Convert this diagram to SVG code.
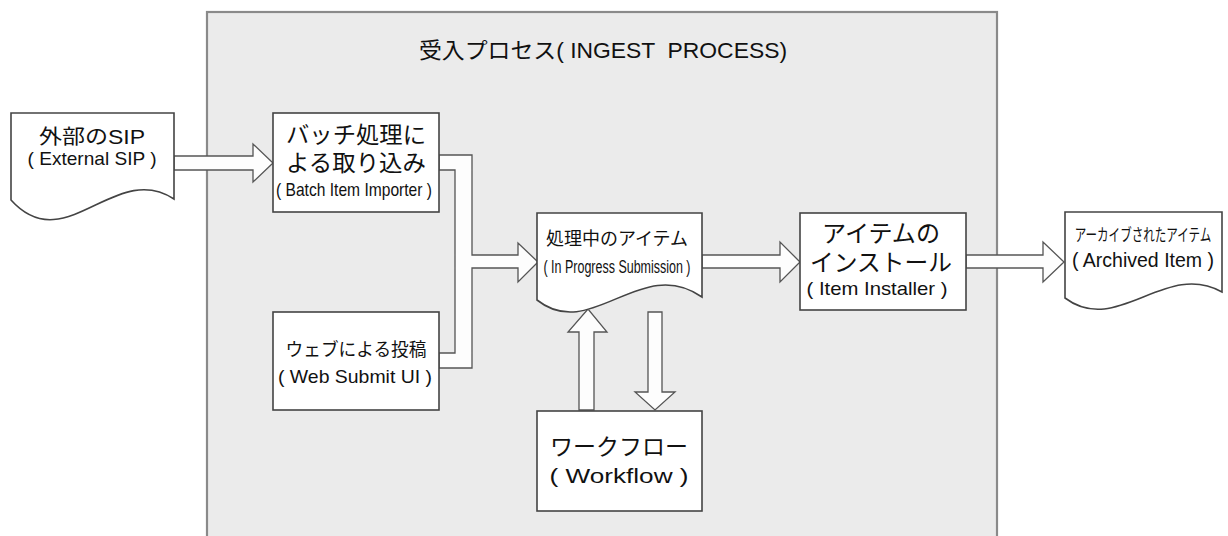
<svg xmlns="http://www.w3.org/2000/svg" width="1228" height="536" viewBox="0 0 1228 536">
<defs>
<style>
.t{font-family:"Liberation Sans","Noto Sans CJK JP",sans-serif;fill:#111;text-anchor:middle}
.box{fill:#fff;stroke:#444;stroke-width:1.6}
.arr{fill:#fdfdfd;stroke:#555;stroke-width:1.3;stroke-linejoin:miter}
.pre{white-space:pre}
</style>
</defs>
<rect width="1228" height="536" fill="#fff"/>
<g id="ingest-process">
<rect x="207" y="12" width="790" height="540" fill="#ebebeb" stroke="#8a8a8a" stroke-width="2.2"/>
<text class="t pre" x="603" y="58" font-size="22" textLength="368" lengthAdjust="spacingAndGlyphs">受入プロセス( INGEST  PROCESS)</text>
</g>
<g id="connectors">
<polygon class="arr" points="174,156 253,156 253,144 273,163 253,182 253,170 174,170"/>
<path class="arr" d="M439,155 H472 V255 H518 V243 L538,262 L518,282 V268 H472 V368 H439 V353 H455 V170 H439 Z"/>
<polygon class="arr" points="702,255 780,255 780,242 800,262 780,282 780,268 702,268"/>
<polygon class="arr" points="966,255 1043,255 1043,242 1064,262 1043,282 1043,268 966,268"/>
<polygon class="arr" points="579,410 579,332 568,332 588,309 607,332 594,332 594,410"/>
<polygon class="arr" points="648,312 662,312 662,392 675,392 655,410 635,392 648,392"/>
</g>
<g id="external-sip">
<path class="box" d="M11,113 H174 V199 C115,160 65,260 11,200 Z"/>
<text class="t" x="92" y="144" font-size="20" textLength="106" lengthAdjust="spacingAndGlyphs">外部のSIP</text>
<text class="t pre" x="92" y="165" font-size="19" textLength="129" lengthAdjust="spacingAndGlyphs">( External SIP )</text>
</g>
<g id="batch-importer">
<rect class="box" x="273" y="113" width="166" height="99"/>
<text class="t" x="356" y="143" font-size="23" textLength="140" lengthAdjust="spacingAndGlyphs">バッチ処理に</text>
<text class="t" x="356" y="171" font-size="23" textLength="140" lengthAdjust="spacingAndGlyphs">よる取り込み</text>
<text class="t pre" x="354" y="196" font-size="19" textLength="156" lengthAdjust="spacingAndGlyphs">( Batch Item Importer )</text>
</g>
<g id="web-submit">
<rect class="box" x="273" y="312" width="166" height="98"/>
<text class="t" x="356" y="356" font-size="18" textLength="141" lengthAdjust="spacingAndGlyphs">ウェブによる投稿</text>
<text class="t pre" x="355" y="383" font-size="19" textLength="154" lengthAdjust="spacingAndGlyphs">( Web Submit UI )</text>
</g>
<g id="in-progress">
<path class="box" d="M537,213 H702 V297 C641,254 591,343 537,300 Z"/>
<text class="t" x="617" y="245" font-size="18" textLength="142" lengthAdjust="spacingAndGlyphs">処理中のアイテム</text>
<text class="t pre" x="617" y="273" font-size="18" textLength="147" lengthAdjust="spacingAndGlyphs">( In Progress Submission )</text>
</g>
<g id="item-installer">
<rect class="box" x="800" y="213" width="166" height="97"/>
<text class="t" x="881" y="242" font-size="24" textLength="118" lengthAdjust="spacingAndGlyphs">アイテムの</text>
<text class="t" x="881" y="271" font-size="24" textLength="142" lengthAdjust="spacingAndGlyphs">インストール</text>
<text class="t pre" x="877" y="295" font-size="19" textLength="141" lengthAdjust="spacingAndGlyphs">( Item Installer )</text>
</g>
<g id="archived-item">
<path class="box" d="M1065,212 H1222 V292 C1165,260 1117,337 1065,298 Z"/>
<text class="t" transform="translate(1143,241) scale(0.68,1)" x="0" y="0" font-size="17">アーカイブされたアイテム</text>
<text class="t pre" x="1143" y="267" font-size="20" textLength="142" lengthAdjust="spacingAndGlyphs">( Archived Item )</text>
</g>
<g id="workflow">
<rect class="box" x="537" y="411" width="165" height="100"/>
<text class="t" x="619" y="455" font-size="23" textLength="138" lengthAdjust="spacingAndGlyphs">ワークフロー</text>
<text class="t pre" x="619" y="483" font-size="21" textLength="139" lengthAdjust="spacingAndGlyphs">( Workflow )</text>
</g>
</svg>
